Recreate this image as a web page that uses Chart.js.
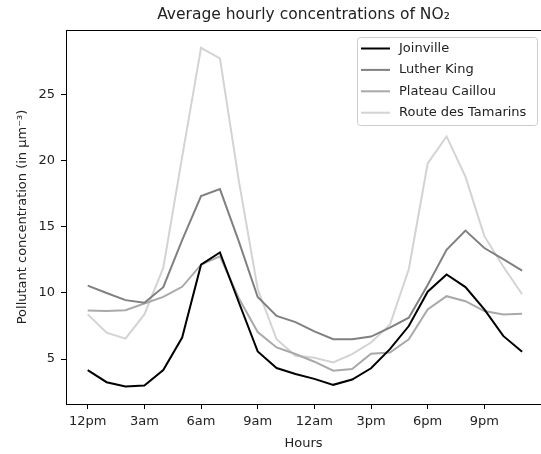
<!doctype html>
<html>
<head>
<title>Average hourly concentrations of NO2</title>
<script src="https://cdn.jsdelivr.net/npm/chart.js@4/dist/chart.umd.min.js"></script>
<style>
body { margin: 0; background: #fff; overflow: hidden; }
canvas { display: block; }
</style>
</head>
<body>
<canvas id="canvas1" width="541" height="454"></canvas>
<script>
// hours of the day (0 = midnight)
var hours = [0, 1, 2, 3, 4, 5, 6, 7, 8, 9, 10, 11, 12, 13, 14, 15, 16, 17, 18, 19, 20, 21, 22, 23];
var tickHours = [0, 3, 6, 9, 12, 15, 18, 21];
var tickLabels = ['12pm', '3am', '6am', '9am', '12am', '3pm', '6pm', '9pm'];
var yTicks = [5, 10, 15, 20, 25];

var stations = ['Joinville', 'Luther King', 'Plateau Caillou', 'Route des Tamarins'];
var stationColors = ['#000000', '#808080', '#a9a9a9', '#d3d3d3'];

var joinville = [4.17, 3.25, 2.92, 3.0, 4.17, 6.63, 12.14, 13.07, 9.3, 5.58, 4.32, 3.87, 3.5, 3.05, 3.45, 4.3, 5.75, 7.5, 10.1, 11.4, 10.45, 8.76, 6.75, 5.55];
var lutherKing = [10.56, 10.0, 9.46, 9.26, 10.44, 14.0, 17.33, 17.86, 13.9, 9.7, 8.26, 7.8, 7.1, 6.5, 6.5, 6.7, 7.38, 8.13, 10.6, 13.27, 14.72, 13.4, 12.57, 11.7];
var plateauCaillou = [8.68, 8.63, 8.7, 9.2, 9.7, 10.47, 12.14, 12.77, 9.6, 7.05, 5.88, 5.38, 4.8, 4.12, 4.25, 5.4, 5.5, 6.5, 8.76, 9.76, 9.38, 8.63, 8.38, 8.43];
var routeTamarins = [8.38, 7.0, 6.55, 8.38, 11.9, 20.3, 28.55, 27.75, 18.5, 10.3, 6.5, 5.25, 5.1, 4.75, 5.38, 6.25, 7.6, 11.8, 19.8, 21.85, 18.8, 14.3, 12.0, 9.9];
var series = [joinville, lutherKing, plateauCaillou, routeTamarins];

var FONT = 'DejaVu Sans';

function points(values) {
    return hours.map(function(h, i) { return {x: h, y: values[i]}; });
}

var datasets = stations.map(function(name, i) {
    return {
        label: name,
        data: points(series[i]),
        borderColor: stationColors[i],
        backgroundColor: stationColors[i],
        borderWidth: 2,
        pointRadius: 0,
        tension: 0,
        fill: false
    };
});

// frame on top of the axes and a matplotlib-like legend box
var framePlugin = {
    id: 'frame',
    afterDraw: function(chart) {
        var ctx = chart.ctx, a = chart.chartArea;
        ctx.save();
        ctx.strokeStyle = '#000';
        ctx.lineWidth = 1;
        ctx.beginPath();
        ctx.moveTo(a.left, a.top + 0.5);
        ctx.lineTo(a.right, a.top + 0.5);
        ctx.stroke();

        var bw = 180, bh = 88;
        var bx = a.right - 4 - bw, by = a.top + 7;
        ctx.fillStyle = 'rgba(255,255,255,0.8)';
        ctx.strokeStyle = '#cccccc';
        ctx.beginPath();
        ctx.roundRect(bx + 0.5, by + 0.5, bw, bh, 3);
        ctx.fill();
        ctx.stroke();

        ctx.font = '13px "' + FONT + '"';
        ctx.textBaseline = 'middle';
        ctx.textAlign = 'left';
        chart.data.datasets.forEach(function(ds, i) {
            var y = by + 11.5 + i * 21.4;
            ctx.strokeStyle = ds.borderColor;
            ctx.lineWidth = 2;
            ctx.beginPath();
            ctx.moveTo(bx + 4, y);
            ctx.lineTo(bx + 33, y);
            ctx.stroke();
            ctx.fillStyle = '#222';
            ctx.fillText(ds.label, bx + 42, y);
        });
        ctx.restore();
    }
};

window.onload = function() {
    var ctx1 = document.getElementById('canvas1').getContext('2d');
    window.myLine = new Chart(ctx1, {
        type: 'line',
        data: {datasets: datasets},
        plugins: [framePlugin],
        options: {
            responsive: false,
            animation: false,
            devicePixelRatio: 1,
            layout: {padding: {left: 0, right: 0, top: 0, bottom: 0}},
            plugins: {
                legend: {display: false},
                tooltip: {enabled: false},
                title: {
                    display: true,
                    fullSize: false,
                    text: 'Average hourly concentrations of NO₂',
                    color: '#222',
                    font: {family: FONT, size: 15.5, weight: 'normal'},
                    padding: {top: 6, bottom: 5.4}
                }
            },
            scales: {
                x: {
                    type: 'linear',
                    min: -1.15,
                    max: 24.0,
                    afterBuildTicks: function(s) {
                        s.ticks = tickHours.map(function(v) { return {value: v}; });
                    },
                    afterFit: function(s) { s.height = 50; },
                    ticks: {
                        autoSkip: false,
                        maxRotation: 0,
                        padding: 5,
                        color: '#222',
                        font: {family: FONT, size: 13},
                        callback: function(v) { return tickLabels[tickHours.indexOf(v)]; }
                    },
                    grid: {display: true, drawOnChartArea: false, drawTicks: true, tickLength: 5, color: '#000'},
                    border: {display: true, color: '#000', width: 1},
                    title: {
                        display: true,
                        text: 'Hours',
                        color: '#222',
                        font: {family: FONT, size: 13},
                        padding: {top: 0, bottom: 3}
                    }
                },
                y: {
                    type: 'linear',
                    min: 1.6,
                    max: 29.9,
                    afterBuildTicks: function(s) {
                        s.ticks = yTicks.map(function(v) { return {value: v}; });
                    },
                    afterFit: function(s) { s.width = 66; },
                    ticks: {
                        padding: 6,
                        color: '#222',
                        font: {family: FONT, size: 13},
                        callback: function(v) { return String(v); }
                    },
                    grid: {display: true, drawOnChartArea: false, drawTicks: true, tickLength: 5, color: '#000'},
                    border: {display: true, color: '#000', width: 1},
                    title: {
                        display: true,
                        text: 'Pollutant concentration (in μm⁻³)',
                        color: '#222',
                        font: {family: FONT, size: 13},
                        padding: {top: 15, bottom: 0}
                    }
                }
            }
        }
    });
};
</script>
</body>
</html>
